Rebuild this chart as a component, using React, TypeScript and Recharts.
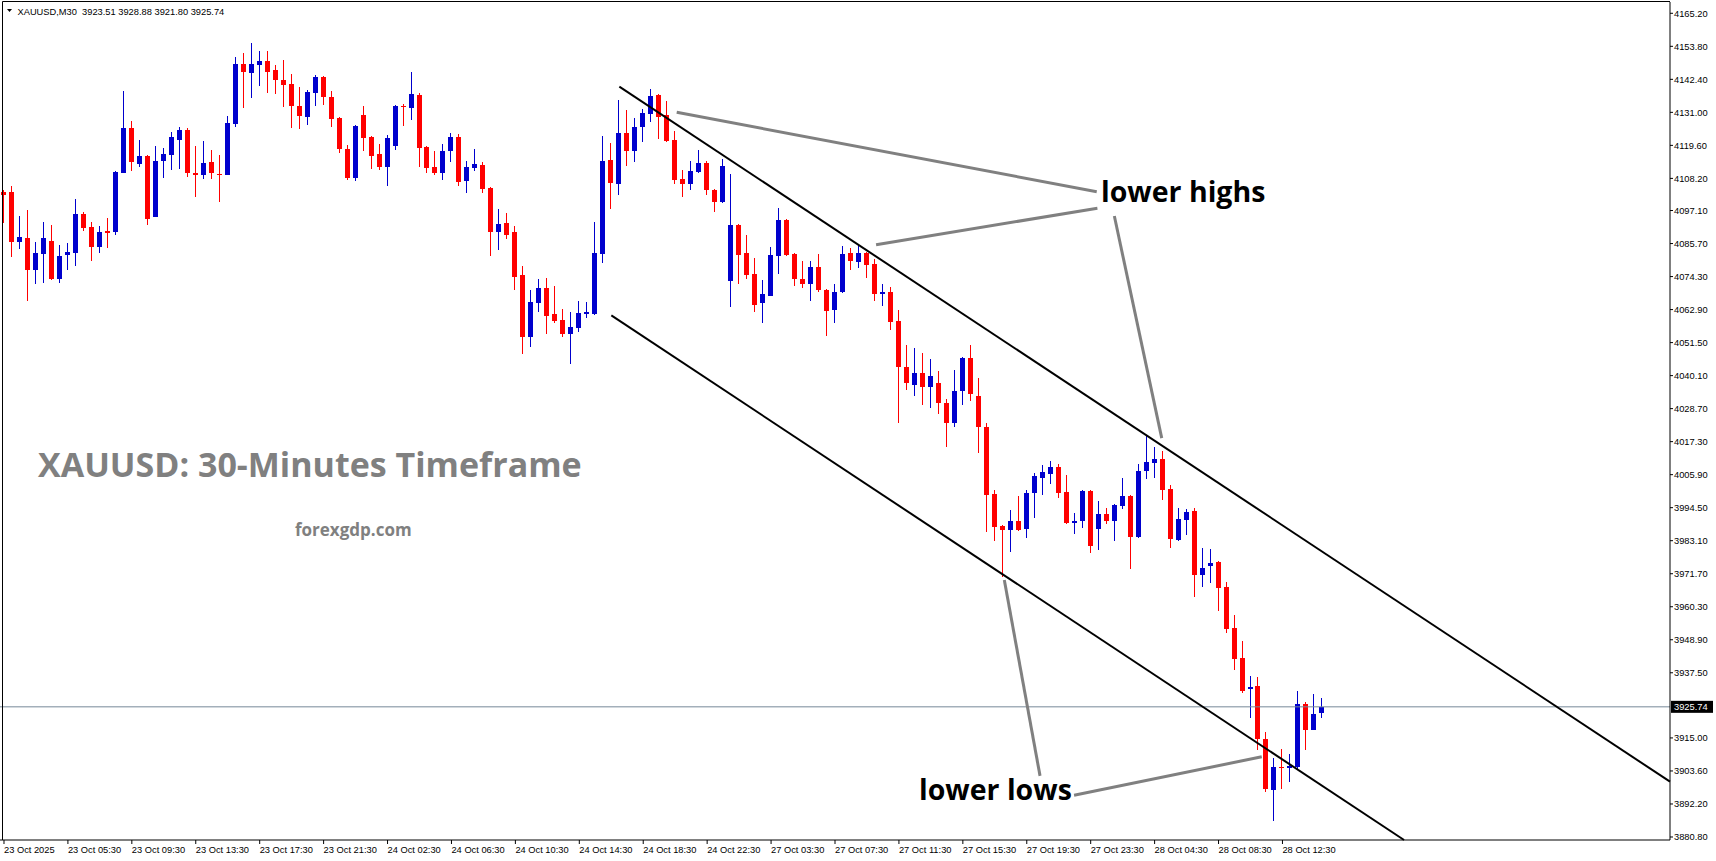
import React from "react";
import { ComposedChart, Bar, XAxis, YAxis, ReferenceLine } from "recharts";

// XAUUSD M30 candles: [open, high, low, close]
const OCT_23: number[][] = [
  [4103.5, 4104.2, 4092.7, 4102.3], [4103.5, 4105.6, 4080.9, 4086.4], [4086.4, 4095.2, 4083.8, 4088.0],
  [4087.6, 4097.3, 4066.0, 4076.4], [4076.7, 4086.3, 4071.8, 4082.5], [4082.1, 4093.2, 4072.2, 4087.6],
  [4086.6, 4092.1, 4073.0, 4073.3], [4073.6, 4085.2, 4072.2, 4081.4], [4081.9, 4085.9, 4076.7, 4082.8],
  [4082.6, 4101.1, 4078.1, 4095.9], [4095.9, 4096.6, 4090.2, 4091.2], [4091.4, 4093.2, 4079.8, 4084.6],
  [4084.6, 4091.8, 4082.6, 4089.7], [4090.1, 4094.5, 4084.0, 4089.5], [4089.8, 4110.8, 4088.8, 4110.4],
  [4110.2, 4138.4, 4110.0, 4125.6], [4125.6, 4128.0, 4110.9, 4113.7], [4113.3, 4121.5, 4112.3, 4116.0],
  [4116.0, 4116.2, 4092.2, 4094.3], [4095.0, 4119.4, 4094.8, 4114.2], [4114.3, 4118.7, 4108.5, 4116.6],
  [4116.4, 4124.2, 4111.2, 4122.5], [4121.6, 4126.0, 4111.6, 4124.9], [4124.9, 4125.6, 4108.8, 4110.2],
  [4110.1, 4119.4, 4101.9, 4109.2], [4109.2, 4121.1, 4108.1, 4113.5], [4113.9, 4118.0, 4108.1, 4109.9],
  [4109.7, 4116.3, 4100.2, 4109.5], [4109.5, 4129.8, 4109.2, 4127.4], [4127.1, 4150.1, 4126.1, 4147.7],
  [4147.7, 4151.5, 4132.6, 4145.1], [4144.7, 4155.0, 4136.1, 4147.7], [4147.5, 4152.2, 4140.2, 4148.8],
  [4148.8, 4152.2, 4137.8, 4145.1], [4145.6, 4147.4, 4137.5, 4142.0], [4142.2, 4149.1, 4133.0, 4140.6],
  [4140.8, 4144.3, 4125.7, 4133.3], [4133.2, 4139.8, 4125.4, 4129.9], [4129.5, 4138.7, 4126.8, 4138.1],
  [4137.8, 4143.9, 4133.3, 4143.2], [4143.2, 4143.5, 4133.7, 4136.4], [4136.3, 4138.4, 4126.1, 4128.8],
  [4129.1, 4129.4, 4116.8, 4118.5], [4118.4, 4119.8, 4107.8, 4108.5], [4108.5, 4126.5, 4107.4, 4126.3],
];

const OCT_24: number[][] = [
  [4130.1, 4133.2, 4117.5, 4122.3], [4122.5, 4122.9, 4111.6, 4116.1], [4116.6, 4120.1, 4111.2, 4112.3],
  [4112.3, 4123.2, 4105.7, 4122.2], [4119.5, 4133.4, 4118.1, 4133.2], [4133.2, 4133.9, 4126.4, 4133.0],
  [4132.6, 4145.0, 4128.2, 4137.4], [4137.0, 4137.7, 4112.3, 4118.8], [4119.1, 4119.4, 4109.9, 4111.9],
  [4112.2, 4117.7, 4109.5, 4109.9], [4109.9, 4120.1, 4107.8, 4117.7], [4117.5, 4123.9, 4114.0, 4122.5],
  [4122.5, 4123.6, 4105.4, 4107.1], [4107.4, 4114.2, 4103.0, 4112.2], [4111.9, 4118.4, 4110.9, 4113.2],
  [4112.8, 4113.9, 4103.3, 4104.7], [4104.9, 4105.3, 4081.5, 4089.8], [4089.8, 4097.7, 4083.6, 4092.5],
  [4092.8, 4096.3, 4087.1, 4088.8], [4089.7, 4091.8, 4069.8, 4074.3], [4074.9, 4078.0, 4047.4, 4053.6],
  [4053.6, 4069.7, 4050.1, 4065.5], [4065.0, 4073.5, 4062.2, 4070.4], [4070.4, 4073.8, 4054.6, 4060.8],
  [4061.4, 4071.2, 4058.4, 4059.1], [4059.3, 4063.1, 4053.6, 4054.6], [4054.6, 4062.1, 4044.2, 4056.9],
  [4056.7, 4065.9, 4055.0, 4061.7], [4061.5, 4065.5, 4060.1, 4062.1], [4061.5, 4093.2, 4061.2, 4082.5],
  [4082.2, 4122.9, 4079.1, 4114.2], [4114.6, 4120.4, 4097.8, 4106.7], [4106.4, 4135.3, 4102.6, 4123.9],
  [4123.9, 4131.8, 4112.6, 4117.8], [4117.8, 4129.1, 4113.7, 4126.0], [4126.1, 4132.2, 4120.9, 4130.8],
  [4130.6, 4139.0, 4127.5, 4136.7], [4137.0, 4137.4, 4121.9, 4129.5], [4130.1, 4134.9, 4120.6, 4121.2],
  [4121.5, 4124.6, 4106.1, 4107.8], [4108.0, 4111.1, 4101.9, 4106.1], [4106.1, 4114.2, 4104.3, 4110.8],
  [4110.5, 4118.0, 4109.9, 4113.5], [4113.5, 4114.2, 4102.3, 4104.3], [4104.2, 4104.6, 4096.7, 4100.2],
  [4100.2, 4114.9, 4099.8, 4112.5],
];

const OCT_27: number[][] = [
  [4072.9, 4109.7, 4063.9, 4092.1], [4092.1, 4092.3, 4071.9, 4081.9], [4082.5, 4088.7, 4073.6, 4075.0],
  [4075.2, 4080.7, 4061.9, 4064.6], [4065.3, 4073.1, 4058.4, 4068.3], [4067.7, 4084.5, 4067.5, 4081.8],
  [4081.5, 4098.0, 4075.3, 4093.9], [4093.9, 4094.2, 4081.5, 4081.9], [4082.1, 4082.5, 4071.2, 4073.3],
  [4073.5, 4079.7, 4070.5, 4071.9], [4071.9, 4079.7, 4065.7, 4077.6], [4077.6, 4082.1, 4069.1, 4069.5],
  [4069.7, 4070.0, 4053.9, 4062.5], [4062.9, 4071.8, 4058.1, 4069.0], [4068.8, 4084.9, 4068.6, 4082.1],
  [4082.5, 4084.2, 4076.7, 4079.8], [4079.5, 4085.2, 4077.4, 4082.5], [4082.5, 4082.8, 4073.9, 4078.4],
  [4078.8, 4080.2, 4066.0, 4068.4], [4068.4, 4071.8, 4064.3, 4069.0], [4069.0, 4070.7, 4056.0, 4058.7],
  [4059.1, 4062.9, 4023.8, 4043.2], [4043.2, 4050.7, 4035.0, 4037.5], [4037.0, 4049.8, 4033.0, 4041.0],
  [4041.0, 4048.0, 4030.0, 4036.0], [4036.0, 4046.0, 4029.0, 4040.0], [4037.5, 4041.8, 4027.0, 4030.5],
  [4030.6, 4031.9, 4015.6, 4023.9], [4023.9, 4042.1, 4022.2, 4034.8], [4034.9, 4046.6, 4030.1, 4046.2],
  [4046.2, 4050.7, 4031.5, 4033.9], [4033.1, 4039.3, 4013.5, 4022.2], [4022.4, 4023.8, 3986.2, 3999.0],
  [3999.2, 4000.6, 3983.1, 3988.0], [3988.2, 3988.5, 3970.7, 3986.9], [3986.9, 3993.7, 3979.3, 3989.9],
  [3989.9, 3998.6, 3986.6, 3986.9], [3987.3, 4000.6, 3984.2, 3999.6], [3999.7, 4006.5, 3991.1, 4005.5],
  [4004.9, 4009.3, 3999.0, 4006.8], [4006.3, 4010.6, 4002.8, 4008.6], [4008.6, 4009.6, 3998.0, 3999.4],
  [3999.9, 4005.8, 3989.0, 3989.3], [3989.3, 3992.7, 3985.5, 3989.9], [3990.0, 4000.6, 3987.6, 4000.3],
  [4000.3, 4000.6, 3979.0, 3981.1],
];

const OCT_28: number[][] = [
  [3987.3, 3996.8, 3980.0, 3992.3], [3992.3, 3994.4, 3988.7, 3990.0], [3990.0, 3995.8, 3983.1, 3995.4],
  [3995.2, 4004.8, 3994.2, 3998.6], [3998.6, 3998.9, 3973.5, 3984.5], [3984.5, 4009.6, 3983.9, 4007.2],
  [4007.0, 4019.6, 4004.5, 4010.3], [4010.1, 4015.5, 4004.9, 4011.3], [4011.3, 4014.1, 3997.3, 4000.7],
  [4001.0, 4002.4, 3980.7, 3983.8], [3983.5, 3994.4, 3983.1, 3990.6], [3990.4, 3994.1, 3985.2, 3993.0],
  [3993.4, 3994.4, 3963.8, 3971.4], [3971.4, 3980.6, 3967.2, 3973.7], [3974.2, 3980.3, 3968.6, 3975.4],
  [3975.8, 3976.1, 3959.0, 3966.6], [3967.1, 3968.9, 3951.4, 3952.7], [3953.0, 3957.5, 3938.6, 3942.4],
  [3942.6, 3948.5, 3930.6, 3931.3], [3931.8, 3936.4, 3922.0, 3932.6], [3932.9, 3936.1, 3911.0, 3914.8],
  [3914.6, 3917.1, 3896.5, 3897.5], [3897.1, 3908.1, 3886.4, 3905.0], [3905.0, 3911.2, 3897.5, 3904.7],
  [3904.7, 3909.5, 3899.9, 3905.3], [3905.1, 3931.2, 3904.4, 3926.7], [3926.7, 3927.4, 3911.0, 3917.9],
  [3917.9, 3930.2, 3917.6, 3923.3], [3923.51, 3928.88, 3921.8, 3925.74],
];

// one label every 8 bars
const TIME_LABELS = [
  "23 Oct 2025", "23 Oct 05:30", "23 Oct 09:30", "23 Oct 13:30", "23 Oct 17:30", "23 Oct 21:30",
  "24 Oct 02:30", "24 Oct 06:30", "24 Oct 10:30", "24 Oct 14:30", "24 Oct 18:30", "24 Oct 22:30",
  "27 Oct 03:30", "27 Oct 07:30", "27 Oct 11:30", "27 Oct 15:30", "27 Oct 19:30", "27 Oct 23:30",
  "28 Oct 04:30", "28 Oct 08:30", "28 Oct 12:30",
];

const PRICE_TICKS = [
  4165.2, 4153.8, 4142.4, 4131.0, 4119.6, 4108.2, 4097.1, 4085.7, 4074.3, 4062.9, 4051.5, 4040.1,
  4028.7, 4017.3, 4005.9, 3994.5, 3983.1, 3971.7, 3960.3, 3948.9, 3937.5, 3915.0, 3903.6, 3892.2, 3880.8,
];

const LAST_PRICE = 3925.74;

// drawings, as [bar index, price] end points
const CHANNEL_LINES = [
  [[77.01, 4139.86], [208.5, 3899.9]],
  [[76.01, 4060.9], [175.22, 3879.76]],
];
const ARROW_LINES = [
  [[84.19, 4131.0], [136.76, 4103.6]],
  [[109.14, 4085.3], [136.84, 4097.9]],
  [[138.96, 4095.2], [144.89, 4018.5]],
  [[125.19, 3969.5], [129.66, 3901.9]],
  [[133.92, 3895.2], [157.41, 3908.5]],
];

const SLOTS = 209;
const BULL = "#0000CD";
const BEAR = "#FF0000";
const AXIS_FONT = "'Liberation Sans', Arial, sans-serif";
const NOTE_FONT = "'Open Sans', sans-serif";

const candles = [...OCT_23, ...OCT_24, ...OCT_27, ...OCT_28];
const data = Array.from({ length: SLOTS }, (_, i) => {
  const k = candles[i];
  if (!k) return { i, range: null };
  return { i, range: [k[2], k[1]], o: k[0], h: k[1], l: k[2], c: k[3] };
});

function Candle(props: any) {
  const { x, y, width, height, payload } = props;
  if (!payload || payload.o == null) return null;
  const { o, h, l, c } = payload;
  const top = Math.min(y, y + height);
  const len = Math.abs(height);
  const span = h - l || 1;
  const py = (v: number) => top + ((h - v) / span) * len;
  const cx = Math.floor(x + width / 2);
  const color = c >= o ? BULL : BEAR;
  const bTop = Math.round(py(Math.max(o, c)));
  const bBot = Math.max(bTop + 1, Math.round(py(Math.min(o, c))));
  const wTop = Math.round(top);
  const wBot = Math.max(wTop + 1, Math.round(top + len));
  return (
    <g>
      <rect x={cx} y={wTop} width={1} height={wBot - wTop} fill={color} />
      <rect x={cx - 2} y={bTop} width={5} height={bBot - bTop} fill={color} />
    </g>
  );
}

function TimeTick(props: any) {
  const { x, y, payload } = props;
  const label = TIME_LABELS[Math.round(payload.value / 8)];
  return (
    <text x={x} y={y + 8} textAnchor="start" fontSize={9.3} fill="#000" fontFamily={AXIS_FONT}>
      {label}
    </text>
  );
}

function PriceTick(props: any) {
  const { x, y, payload } = props;
  return (
    <text x={x} y={y + 3.5} textAnchor="start" fontSize={9.3} fill="#000" fontFamily={AXIS_FONT}>
      {Number(payload.value).toFixed(2)}
    </text>
  );
}

function PriceTag(props: any) {
  const vb = props.viewBox;
  if (!vb) return null;
  const x = vb.x + vb.width + 1;
  return (
    <g>
      <rect x={x} y={vb.y - 6} width={42} height={12} fill="#000" />
      <text x={x + 3} y={vb.y + 3.5} fill="#fff" fontSize={9.3} fontFamily={AXIS_FONT}>
        {LAST_PRICE.toFixed(2)}
      </text>
    </g>
  );
}

export default function App() {
  const timeTicks = TIME_LABELS.map((_, k) => k * 8);
  return (
    <div style={{ position: "absolute", left: 0, top: 0, width: 1716, height: 861, background: "#fff", fontFamily: AXIS_FONT }}>
      <ComposedChart width={1716} height={861} data={data} margin={{ top: 2, right: 0, bottom: 0, left: 0 }} barCategoryGap={0}>
        <XAxis
          xAxisId="cat"
          dataKey="i"
          type="category"
          ticks={timeTicks}
          interval={0}
          height={21}
          tickSize={4}
          tickMargin={1}
          axisLine={{ stroke: "#000" }}
          tickLine={{ stroke: "#000" }}
          tick={<TimeTick />}
        />
        <XAxis xAxisId="num" dataKey="i" type="number" domain={[-0.5, SLOTS - 0.5]} allowDataOverflow hide />
        <YAxis
          orientation="right"
          width={46}
          domain={[3879.76, 4169.1]}
          allowDataOverflow
          ticks={PRICE_TICKS}
          interval={0}
          tickSize={3}
          tickMargin={1}
          axisLine={{ stroke: "#000" }}
          tickLine={{ stroke: "#000" }}
          tick={<PriceTick />}
        />
        <Bar xAxisId="cat" dataKey="range" barSize={5} isAnimationActive={false} shape={(p: any) => <Candle {...p} />} />
        <ReferenceLine xAxisId="num" y={LAST_PRICE} stroke="#778899" ifOverflow="visible" label={<PriceTag />} />
        {CHANNEL_LINES.map((s, k) => (
          <ReferenceLine
            key={"ch" + k}
            xAxisId="num"
            segment={[{ x: s[0][0], y: s[0][1] }, { x: s[1][0], y: s[1][1] }]}
            stroke="#000"
            strokeWidth={2}
            ifOverflow="visible"
          />
        ))}
        {ARROW_LINES.map((s, k) => (
          <ReferenceLine
            key={"ar" + k}
            xAxisId="num"
            segment={[{ x: s[0][0], y: s[0][1] }, { x: s[1][0], y: s[1][1] }]}
            stroke="#808080"
            strokeWidth={3}
            ifOverflow="visible"
          />
        ))}
      </ComposedChart>
      <svg width={1716} height={861} style={{ position: "absolute", left: 0, top: 0, pointerEvents: "none" }}>
        <line x1={2.5} y1={1.5} x2={1670} y2={1.5} stroke="#000" strokeWidth={1} />
        <line x1={2.5} y1={1.5} x2={2.5} y2={840} stroke="#000" strokeWidth={1} />
        <polygon points="7,9 12,9 9.5,12" fill="#000" />
        <text x={17.5} y={14.5} fontSize={9.3} fill="#000" fontFamily={AXIS_FONT}>
          XAUUSD,M30{"\u00a0\u00a0"}3923.51 3928.88 3921.80 3925.74
        </text>
        <text x={38} y={477} fontSize={34} fontWeight="bold" fill="#808080" fontFamily={NOTE_FONT}>
          XAUUSD: 30-Minutes Timeframe
        </text>
        <text x={295} y={536} fontSize={17} fontWeight="bold" fill="#808080" fontFamily={NOTE_FONT}>
          forexgdp.com
        </text>
        <text x={1101} y={201.5} fontSize={28.5} fontWeight="bold" fill="#000" fontFamily={NOTE_FONT}>
          lower highs
        </text>
        <text x={919} y={800} fontSize={28.5} fontWeight="bold" fill="#000" fontFamily={NOTE_FONT}>
          lower lows
        </text>
      </svg>
    </div>
  );
}
